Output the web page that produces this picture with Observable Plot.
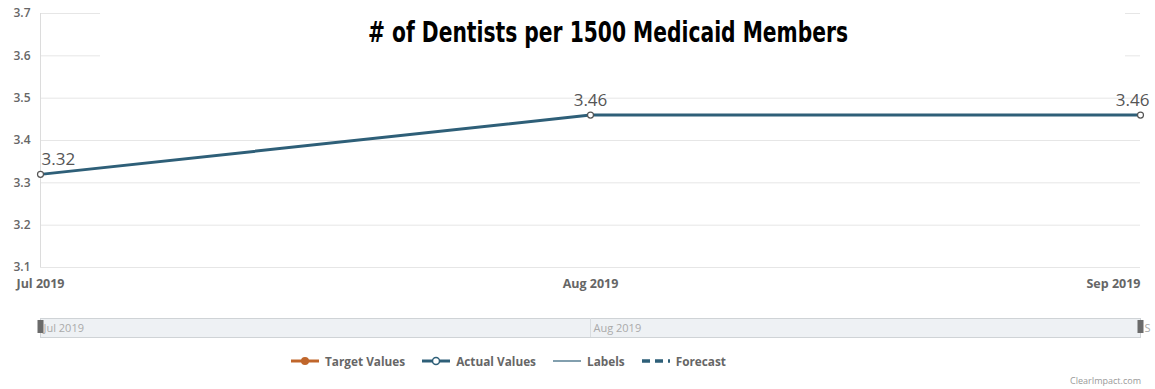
<!DOCTYPE html>
<html>
<head>
<meta charset="utf-8">
<script src="https://cdn.jsdelivr.net/npm/d3@7"></script>
<script src="https://cdn.jsdelivr.net/npm/@observablehq/plot@0.6"></script>
<style>
  html, body { margin: 0; padding: 0; background: #fff; }
  #wrap { position: relative; width: 1155px; height: 389px; overflow: hidden; font-family: "Open Sans", "DejaVu Sans", sans-serif; }
  #title { position: absolute; left: 100px; top: 0; width: 1025px; height: 66px; background: #fff; }
  #title span { position: absolute; left: 268px; top: 18px; display: inline-block; font-family: "DejaVu Sans Condensed", "DejaVu Sans", sans-serif; font-stretch: condensed;
           font-weight: bold; font-size: 29px; line-height: 29px; color: #000; transform-origin: left center; white-space: nowrap; }
  #nav { position: absolute; left: 0; top: 312px; }
  #legend { position: absolute; left: 282px; top: 353px; white-space: nowrap; font-size: 11.8px; font-weight: bold; color: #666; }
  #legend .item { display: inline-flex; align-items: center; margin: 0 8px; }
  #legend svg { margin-right: 5px; }
  #credit { position: absolute; right: 14px; top: 374px; font-size: 9px; color: #999; }
</style>
</head>
<body>
<div id="wrap">
  <div id="chart"></div>
  <div id="title"><span># of Dentists per 1500 Medicaid Members</span></div>
  <div id="nav"></div>
  <div id="legend"></div>
  <div id="credit">ClearImpact.com</div>
</div>
<script>
const months = ["Jul 2019", "Aug 2019", "Sep 2019"];
const actualValues = [3.32, 3.46, 3.46];
const yTicks = [3.1, 3.2, 3.3, 3.4, 3.5, 3.6, 3.7];
const legendItems = ["Target Values", "Actual Values", "Labels", "Forecast"];
const legendColors = ["#c0662b", "#2e5f78", "#2e5f78", "#2e5f78"];

const data = months.map((m, i) => ({month: m, value: actualValues[i], i}));
const lineColor = "#2e5f78";

const chart = Plot.plot({
  width: 1155,
  height: 300,
  marginLeft: 40,
  marginRight: 15,
  marginTop: 13,
  marginBottom: 33,
  style: {fontFamily: "'Open Sans', 'DejaVu Sans', sans-serif", background: "#fff"},
  x: {type: "point", domain: months, padding: 0, axis: null},
  y: {domain: [3.1, 3.7], ticks: yTicks, tickSize: 0, tickPadding: 10, label: null, tickFormat: d3.format(".1f")},
  marks: [
    Plot.gridY(yTicks, {stroke: "#e6e6e6", strokeOpacity: 1}),
    Plot.ruleX([months[0]], {stroke: "#dcdcdc", y1: 3.1, y2: 3.7}),
    Plot.axisY(yTicks, {tickSize: 0, tickPadding: 10, fill: "#666", fontSize: 12, fontWeight: 600, tickFormat: d3.format(".1f"), label: null}),
    Plot.line(data, {x: "month", y: "value", stroke: lineColor, strokeWidth: 3}),
    Plot.dot(data, {x: "month", y: "value", r: 3, fill: "#fff", stroke: "#555", strokeWidth: 1.2}),
    Plot.text(data.filter(d => d.i === 0), {x: "month", y: "value", text: d => d.value.toFixed(2), textAnchor: "start", dy: -15, dx: 1, fontSize: 17, fill: "#555"}),
    Plot.text(data.filter(d => d.i > 0 && d.i < months.length - 1), {x: "month", y: "value", text: d => d.value.toFixed(2), textAnchor: "middle", dy: -15, fontSize: 17, fill: "#555"}),
    Plot.text(data.filter(d => d.i === months.length - 1), {x: "month", y: "value", text: d => d.value.toFixed(2), textAnchor: "end", dx: 9, dy: -15, fontSize: 17, fill: "#555"}),
    Plot.text(months.slice(0, -1), {x: d => d, frameAnchor: "bottom", dy: 20, textAnchor: "middle", fontSize: 12.5, fontWeight: "bold", fill: "#666"}),
    Plot.text(months.slice(-1), {x: d => d, frameAnchor: "bottom", dy: 20, textAnchor: "end", fontSize: 12.5, fontWeight: "bold", fill: "#666"})
  ]
});
document.getElementById("chart").appendChild(chart);

const nav = Plot.plot({
  width: 1155,
  height: 30,
  marginLeft: 40,
  marginRight: 15,
  marginTop: 6,
  marginBottom: 5,
  style: {fontFamily: "'Open Sans', 'DejaVu Sans', sans-serif", background: "transparent", overflow: "visible"},
  x: {type: "point", domain: months, padding: 0, axis: null},
  y: {axis: null},
  marks: [
    Plot.frame({fill: "#eef1f4", stroke: "#cfd3d6"}),
    Plot.ruleX(months.slice(1, -1), {stroke: "#d8dcdf"}),
    Plot.text(months.slice(0, -1), {x: d => d, textAnchor: "start", dx: 3, fontSize: 11, fill: "#aaa"}),
    Plot.text(months.slice(-1), {x: d => d, textAnchor: "start", dx: 4, fontSize: 11, fill: "#aaa", text: d => d.slice(0,1)}),
    Plot.tickX([months[0], months[months.length - 1]], {x: d => d, stroke: "#6b6b6b", strokeWidth: 6, insetTop: 2, insetBottom: 4})
  ]
});
document.getElementById("nav").appendChild(nav);

// condense title to the reference width
const t = document.querySelector("#title span");
const w = t.getBoundingClientRect().width;
t.style.transform = `scaleX(${480 / w})`;

const legend = document.getElementById("legend");
legendItems.forEach((name, i) => {
  const span = document.createElement("span");
  span.className = "item";
  const svg = d3.create("svg").attr("width", 30).attr("height", 12);
  const c = legendColors[i];
  if (i === 0) {
    svg.append("line").attr("x1", 1).attr("x2", 29).attr("y1", 6).attr("y2", 6).attr("stroke", c).attr("stroke-width", 3);
    svg.append("circle").attr("cx", 15).attr("cy", 6).attr("r", 4).attr("fill", c);
  } else if (i === 1) {
    svg.append("line").attr("x1", 1).attr("x2", 29).attr("y1", 6).attr("y2", 6).attr("stroke", c).attr("stroke-width", 3);
    svg.append("circle").attr("cx", 15).attr("cy", 6).attr("r", 3.5).attr("fill", "#fff").attr("stroke", c).attr("stroke-width", 1.5);
  } else if (i === 2) {
    svg.append("line").attr("x1", 1).attr("x2", 29).attr("y1", 6).attr("y2", 6).attr("stroke", c).attr("stroke-width", 1.2);
  } else {
    svg.append("line").attr("x1", 1).attr("x2", 29).attr("y1", 6).attr("y2", 6).attr("stroke", c).attr("stroke-width", 3.5).attr("stroke-dasharray", "8,5");
  }
  span.appendChild(svg.node());
  span.appendChild(document.createTextNode(name));
  legend.appendChild(span);
});
</script>
</body>
</html>
